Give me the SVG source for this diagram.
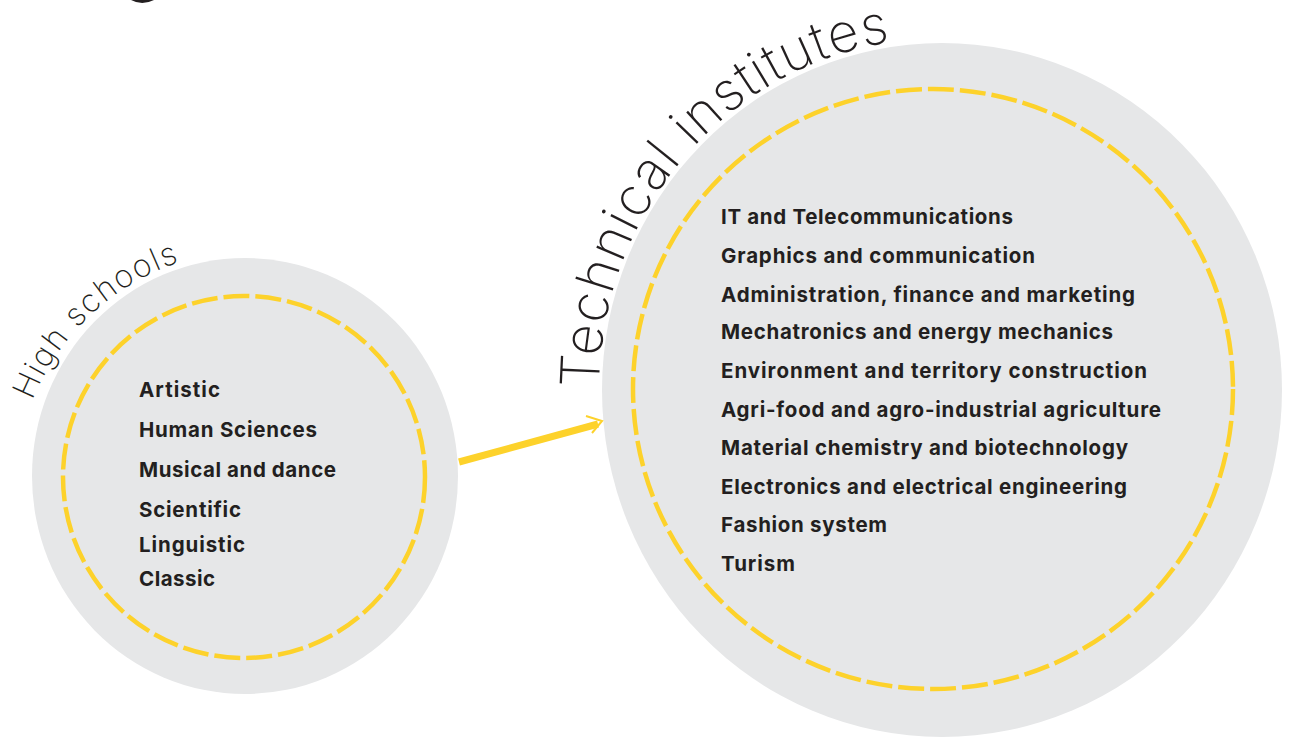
<svg xmlns="http://www.w3.org/2000/svg" width="1291" height="738" viewBox="0 0 1291 738">
<defs>
<style>
.bg{fill:#e6e7e8}
.dash{fill:none;stroke:#fdd22b;stroke-width:4.5;stroke-dasharray:26 6}
.title{font-family:Inter,"Open Sans","Liberation Sans",sans-serif;font-weight:200;fill:#231f20}
.item{font-family:Inter,"Liberation Sans",sans-serif;font-weight:700;font-size:20.5px;fill:#231f20}
.arrow{stroke:#fdd22b;fill:none}
</style>
<path id="arcHS" d="M29.5,407.9 A240,240 0 0 1 213.3,253.6"/>
<path id="arcTI" d="M599,390 A343,352 0 0 1 971.9,39.3"/>
</defs>
<rect width="1291" height="738" fill="#ffffff"/>
<path d="M131,0 Q142,6 154,0 Z" fill="#231f20"/>
<g id="high-schools">
<ellipse class="bg" cx="245" cy="476" rx="213" ry="218"/>
<circle class="dash" cx="244" cy="477" r="181"/>
<text class="title" font-size="32"><textPath href="#arcHS" startOffset="8" textLength="208" lengthAdjust="spacing">High schools</textPath></text>
<text class="item" x="139" y="397" textLength="81" lengthAdjust="spacing">Artistic</text>
<text class="item" x="139" y="437" textLength="178" lengthAdjust="spacing">Human Sciences</text>
<text class="item" x="139" y="477" textLength="197" lengthAdjust="spacing">Musical and dance</text>
<text class="item" x="139" y="517" textLength="102" lengthAdjust="spacing">Scientific</text>
<text class="item" x="139" y="552" textLength="106" lengthAdjust="spacing">Linguistic</text>
<text class="item" x="139" y="586" textLength="76" lengthAdjust="spacing">Classic</text>
</g>
<g id="technical-institutes">
<ellipse class="bg" cx="942" cy="390" rx="340" ry="347"/>
<circle class="dash" cx="933" cy="389" r="300"/>
<text class="title" font-size="54"><textPath href="#arcTI" startOffset="2" textLength="492" lengthAdjust="spacing">Technical institutes</textPath></text>
<text class="item" x="721" y="224" textLength="292" lengthAdjust="spacing">IT and Telecommunications</text>
<text class="item" x="721" y="263" textLength="314" lengthAdjust="spacing">Graphics and communication</text>
<text class="item" x="721" y="302" textLength="414" lengthAdjust="spacing">Administration, finance and marketing</text>
<text class="item" x="721" y="339" textLength="392" lengthAdjust="spacing">Mechatronics and energy mechanics</text>
<text class="item" x="721" y="378" textLength="426" lengthAdjust="spacing">Environment and territory construction</text>
<text class="item" x="721" y="417" textLength="440" lengthAdjust="spacing">Agri-food and agro-industrial agriculture</text>
<text class="item" x="721" y="455" textLength="407" lengthAdjust="spacing">Material chemistry and biotechnology</text>
<text class="item" x="721" y="494" textLength="406" lengthAdjust="spacing">Electronics and electrical engineering</text>
<text class="item" x="721" y="532" textLength="166" lengthAdjust="spacing">Fashion system</text>
<text class="item" x="721" y="571" textLength="74" lengthAdjust="spacing">Turism</text>
</g>
<g id="connectors">
<line class="arrow" x1="459" y1="462" x2="598" y2="424" stroke-width="7"/>
<polyline class="arrow" points="586,416 602,421 592,433" stroke-width="2"/>
</g>
</svg>
